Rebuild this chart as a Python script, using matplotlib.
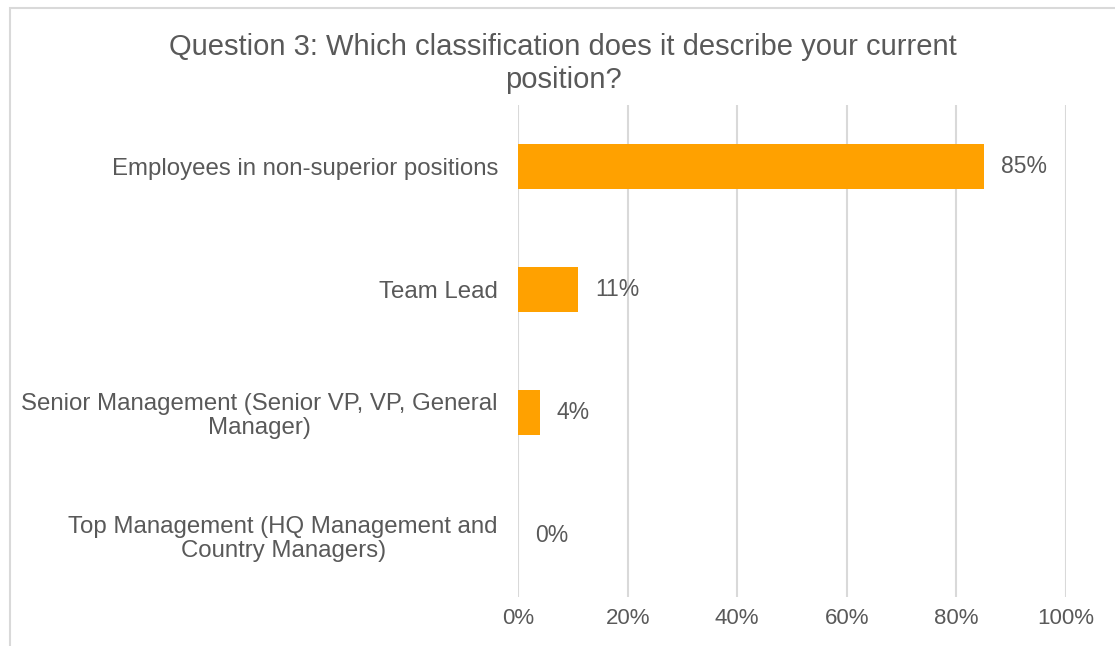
import matplotlib.pyplot as plt
from matplotlib.patches import Rectangle

# data
categories = ["Employees in non-superior positions",
              "Team Lead",
              "Senior Management (Senior VP, VP, General\nManager)",
              "Top Management (HQ Management and\nCountry Managers)"]
values = [85, 11, 4, 0]
ticks = [0, 20, 40, 60, 80, 100]

plt.rcParams['font.family'] = ['Liberation Sans', 'DejaVu Sans']
grey = "#595959"

fig = plt.figure(figsize=(11.15, 6.46), dpi=100)
ax = fig.add_axes([0.4646, 0.0759, 0.4915, 0.7616])

ypos = list(range(len(categories)))
ax.barh(ypos, values, height=0.37, color="#FFA100", zorder=3)
for y, v in zip(ypos, values):
    ax.annotate("{}%".format(v), xy=(v, y), xytext=(12, 0), textcoords="offset points",
                va="center", ha="left", fontsize=16.5, color=grey)

ax.set_xlim(0, 100)
ax.set_ylim(len(categories) - 0.5, -0.5)
ax.set_xticks(ticks)
ax.set_xticklabels(["{}%".format(t) for t in ticks], fontsize=16, color=grey)
ax.set_yticks(ypos)
ax.set_yticklabels(categories, fontsize=17.3, color=grey, linespacing=1.1,
                   multialignment="center")
ax.tick_params(length=0, pad=14.5)
ax.tick_params(axis="x", pad=8)
ax.grid(axis="x", color="#D9D9D9", linewidth=1.5, zorder=0)
for s in ax.spines.values():
    s.set_visible(False)

fig.text(0.505, 0.9017, "Question 3: Which classification does it describe your current\nposition?",
         ha="center", va="center", fontsize=21, color=grey, linespacing=1.2)

# chart border
fig.patches.append(Rectangle((10 / 1115, -0.05), 1.2, 1.05 - 8 / 646, transform=fig.transFigure,
                             fill=False, edgecolor="#D9D9D9", linewidth=1.5))

fig.savefig("out.png", dpi=100)
